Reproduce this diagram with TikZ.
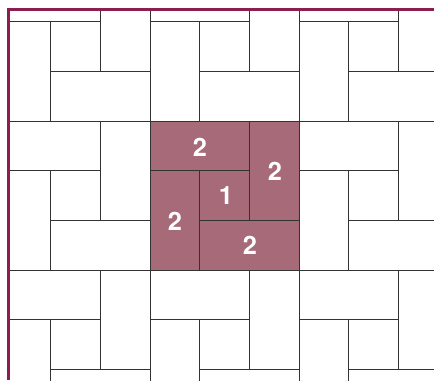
\documentclass[tikz,border=0pt]{standalone}
\usepackage{fontspec}
\setmainfont{TeX Gyre Heros}
\definecolor{tilefill}{HTML}{A66A78}
\definecolor{frame}{HTML}{8C1D4E}
\definecolor{edge}{HTML}{333333}
\begin{document}
\begin{tikzpicture}[x=0.75pt,y=-0.75pt,
  tile/.style={draw=edge,line width=0.75pt},
  hot/.style={tile,fill=tilefill},
  num/.style={text=white,font=\fontsize{19}{19}\selectfont\bfseries,inner sep=0pt}]
\useasboundingbox (0,0) rectangle (434,380);
\def\u{49.667}
\begin{scope}
\clip (8,9) rectangle (434,380);
% highlighted block
\begin{scope}[shift={(150,121)}]
  \filldraw[hot] (0,0) rectangle (2*\u,\u);
  \filldraw[hot] (2*\u,0) rectangle (3*\u,2*\u);
  \filldraw[hot] (\u,2*\u) rectangle (3*\u,3*\u);
  \filldraw[hot] (0,\u) rectangle (\u,3*\u);
  \filldraw[hot] (\u,\u) rectangle (2*\u,2*\u);
\end{scope}
\foreach \i in {-1,0,1}{
  \foreach \j in {-1,0,1}{
    \begin{scope}[shift={(150+3*\u*\i,121+3*\u*\j)}]
      \draw[tile] (0,0) rectangle (2*\u,\u);
      \draw[tile] (2*\u,0) rectangle (3*\u,2*\u);
      \draw[tile] (\u,2*\u) rectangle (3*\u,3*\u);
      \draw[tile] (0,\u) rectangle (\u,3*\u);
      \draw[tile] (\u,\u) rectangle (2*\u,2*\u);
    \end{scope}
  }
}
\end{scope}
\draw[frame,line width=2pt] (8.5,380) -- (8.5,9.3) -- (434,9.3);
\node[num] (top) at (200,147) {2};
\node[num] (right) at (275,171) {2};
\node[num] (centre) at (226,196) {1};
\node[num] (left) at (175,221) {2};
\node[num] (bottom) at (250,245) {2};
\end{tikzpicture}
\end{document}
